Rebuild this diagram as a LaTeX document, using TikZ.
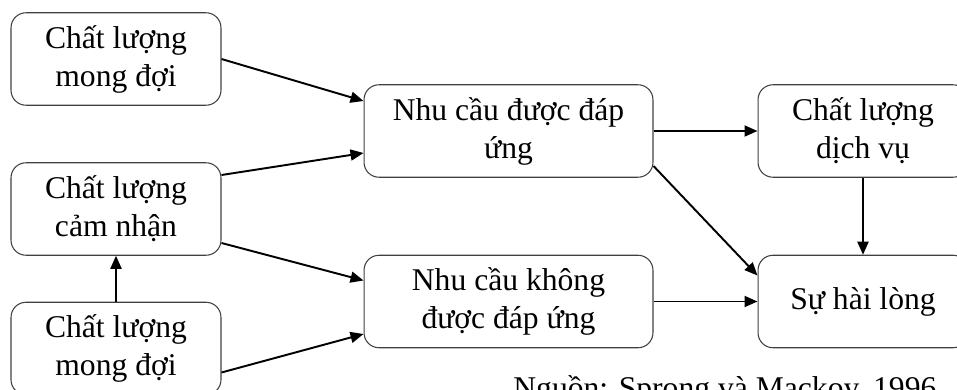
\documentclass[tikz,border=0pt]{standalone}
\usepackage{fontspec}
\setmainfont{Liberation Serif}
\usetikzlibrary{arrows.meta}

\begin{document}
\begin{tikzpicture}[x=0.02cm, y=-0.02cm,
    every node/.style={font=\fontsize{18}{21.6}\selectfont},
    box/.style={draw=black!75, line width=0.6pt, rounded corners=0.3cm,
      align=center, inner sep=0pt, minimum height=1.85cm},
    smallbox/.style={box, minimum width=4.2cm},
    bigbox/.style={box, minimum width=5.78cm},
    link/.style={line width=1.1pt, -{Triangle[length=0.26cm,width=0.22cm]}}]
      % crop of the page
      \clip (0,0) rectangle (957,389);
      % left column
      \node[smallbox] (mongdoi1) at (116,59) {Chất lượng\\mong đợi};
      \node[smallbox] (camnhan) at (116,209) {Chất lượng\\cảm nhận};
      \node[smallbox] (mongdoi2) at (116,348.5) {Chất lượng\\mong đợi};
      % middle column
      \node[bigbox] (dapung) at (508.5,131) {Nhu cầu được đáp\\ứng};
      \node[bigbox] (khongdapung) at (508.5,301.5) {Nhu cầu không\\được đáp ứng};
      % right column
      \node[smallbox] (dichvu) at (863,131) {Chất lượng\\dịch vụ};
      \node[smallbox] (hailong) at (863,301.5) {Sự hài lòng};
      % source
      \node[anchor=base west, inner sep=0pt] (nguon) at (513,398) {Nguồn: Sprong và Mackoy, 1996};
      % arrows
      \draw[link] (mongdoi1.east) -- ([yshift=0.6cm]dapung.west);
      \draw[link] ([yshift=0.68cm]camnhan.east) -- ([yshift=-0.44cm]dapung.west);
      \draw[link] ([yshift=-0.68cm]camnhan.east) -- ([yshift=0.42cm]khongdapung.west);
      \draw[link] ([yshift=-0.48cm]mongdoi2.east) -- ([yshift=-0.65cm]khongdapung.west);
      \draw[link] (mongdoi2.north) -- (camnhan.south);
      \draw[link] (dapung.east) -- (dichvu.west);
      \draw[link] ([yshift=-0.7cm]dapung.east) -- ([yshift=0.52cm]hailong.west);
      \draw[link] (khongdapung.east) -- (hailong.west);
      \draw[link] (dichvu.south) -- (hailong.north);
\end{tikzpicture}
\end{document}
